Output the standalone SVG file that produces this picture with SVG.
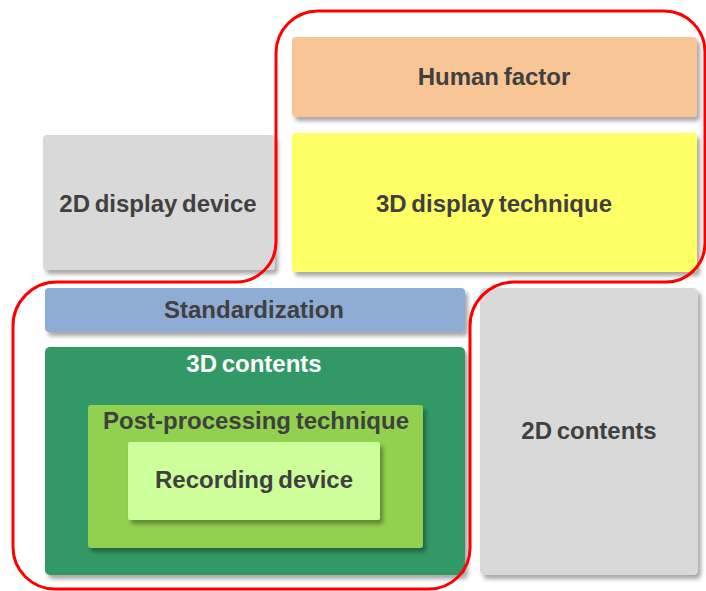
<svg xmlns="http://www.w3.org/2000/svg" width="706" height="591" viewBox="0 0 706 591">
  <defs>
    <filter id="shadow" x="-5%" y="-5%" width="115%" height="120%">
      <feDropShadow dx="3" dy="4" stdDeviation="2" flood-color="#000" flood-opacity="0.35"/>
    </filter>
  </defs>
  <style>
    .box { filter: url(#shadow); }
    .lbl { font-family: "Liberation Sans", Arial, sans-serif; font-weight: bold; font-size: 24px; fill: #404040; text-anchor: middle; word-spacing: -2px; }
    .white { fill: #ffffff; }
    .outline { fill: none; stroke: #ff0000; stroke-width: 3; }
  </style>
  <rect width="706" height="591" fill="#ffffff"/>

  <g id="display-2d">
    <rect class="box" x="43" y="135" width="232" height="135" rx="4" fill="#d9d9d9"/>
    <text class="lbl" x="158" y="212">2D display device</text>
  </g>

  <g id="human-factor">
    <rect class="box" x="292" y="37" width="405" height="80" rx="4" fill="#fac595"/>
    <text class="lbl" x="494" y="85">Human factor</text>
  </g>

  <g id="display-3d">
    <rect class="box" x="292" y="133" width="405" height="139" rx="4" fill="#ffff66"/>
    <text class="lbl" x="494" y="212">3D display technique</text>
  </g>

  <g id="standardization">
    <rect class="box" x="45" y="288" width="420" height="44" rx="4" fill="#8eacd4"/>
    <text class="lbl" x="254" y="318">Standardization</text>
  </g>

  <g id="contents-3d">
    <rect class="box" x="45" y="347" width="420" height="228" rx="5" fill="#339966"/>
    <text class="lbl white" x="254" y="372">3D contents</text>
  </g>

  <g id="post-processing">
    <rect class="box" x="88" y="405" width="335" height="143" rx="3" fill="#92d050"/>
    <text class="lbl" x="256" y="429">Post-processing technique</text>
  </g>

  <g id="recording-device">
    <rect class="box" x="128" y="442" width="252" height="78" rx="2" fill="#ccff99"/>
    <text class="lbl" x="254" y="488">Recording device</text>
  </g>

  <g id="contents-2d">
    <rect class="box" x="480" y="288" width="218" height="287" rx="5" fill="#d9d9d9"/>
    <text class="lbl" x="589" y="439">2D contents</text>
  </g>

  <g id="connectors">
    <path class="outline" d="M276,53 A42,42 0 0 1 318,11 H664 A41,41 0 0 1 705,52 V243 A39,39 0 0 1 666,282 H514 A44,44 0 0 0 470,326 V548 A41,41 0 0 1 429,589 H55 A42,42 0 0 1 13,547 V326 A44,44 0 0 1 57,282 H236 A40,40 0 0 0 276,242 Z"/>
  </g>
</svg>
